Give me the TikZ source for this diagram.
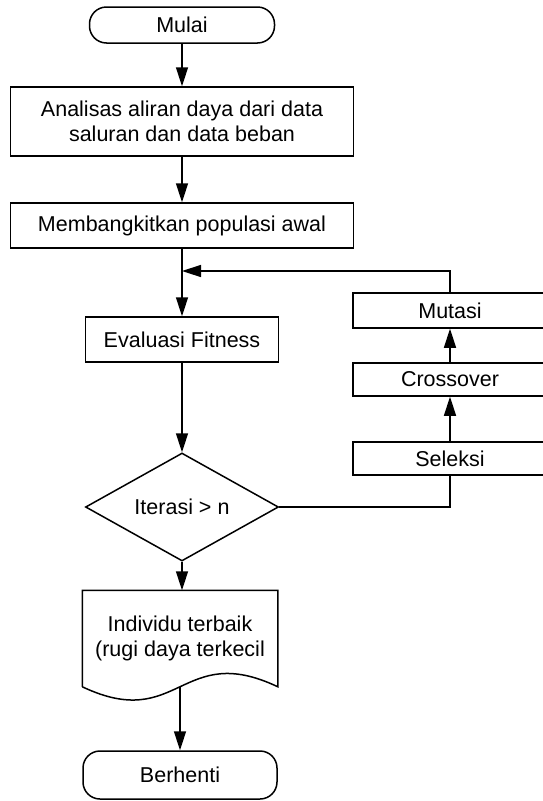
\documentclass[tikz,border=0pt]{standalone}
\usepackage{fontspec}
\setmainfont{Liberation Sans}
\usetikzlibrary{shapes.geometric, arrows.meta}
\tikzstyle{termBox} = [rectangle, rounded corners=17pt, draw, text centered, minimum width=185pt, inner sep=0pt]
\tikzstyle{procBox} = [rectangle, draw, text centered, align=center, inner sep=0pt]
\tikzstyle{decBox} = [diamond, draw, aspect=1.8, inner sep=0pt, minimum width=193pt, minimum height=108pt]
\tikzstyle{docBox} = [rectangle, align=center, inner sep=0pt, minimum width=194pt, minimum height=95pt]
\tikzstyle{flowArrow} = [-{Triangle[length=19pt,width=12pt]}]

\begin{document}
\begin{tikzpicture}[x=1pt, y=-1pt, line width=1.5pt, font=\fontsize{21.5}{25}\selectfont]
	\useasboundingbox (0,0) rectangle (543,801);
	% main column
	\node [termBox, minimum height=36pt](start) at (182,25) {Mulai};
	\node [procBox, minimum width=343pt, minimum height=69pt](analisa) at (182,121.5) {Analisas aliran daya dari data\\saluran dan data beban};
	\node [procBox, minimum width=343pt, minimum height=45pt](populasi) at (182,225.5) {Membangkitkan populasi awal};
	\node [procBox, minimum width=193pt, minimum height=45pt](fitness) at (182,339.5) {Evaluasi Fitness};
	\node [decBox](iterasi) at (182,507) {Iterasi > n};
	\node [docBox](individu) at (180,638.5) {Individu terbaik\\(rugi daya terkecil};
	\node [termBox, minimum width=194pt, minimum height=48pt](stop) at (180,775) {Berhenti};
	% right column
	\node [procBox, minimum width=194pt, minimum height=35pt](mutasi) at (450,310.5) {Mutasi};
	\node [procBox, minimum width=194pt, minimum height=33pt](crossover) at (450,379.5) {Crossover};
	\node [procBox, minimum width=194pt, minimum height=33pt](seleksi) at (450,458.5) {Seleksi};
	\coordinate (join) at (182,271);

	\draw (individu.south west) -- (individu.north west) -- (individu.north east) -- (individu.south east)
		.. controls +(-97,-46) and +(97,46) .. (individu.south west);

	\draw [flowArrow] (start) -- (analisa);
	\draw [flowArrow] (analisa) -- (populasi);
	\draw [flowArrow] (populasi) -- (fitness);
	\draw [flowArrow] (fitness) -- (iterasi);
	\draw [flowArrow] (iterasi.south) -- (iterasi.south |- individu.north);
	\draw [flowArrow] (individu.south) -- (stop);
	\draw (iterasi.east) -| (seleksi.south);
	\draw [flowArrow] (seleksi) -- (crossover);
	\draw [flowArrow] (crossover) -- (mutasi);
	\draw [flowArrow] (mutasi.north) |- (join);
\end{tikzpicture}
\end{document}
